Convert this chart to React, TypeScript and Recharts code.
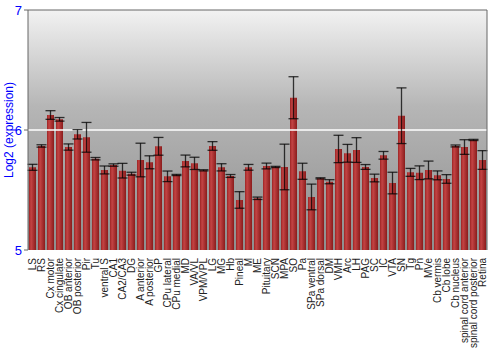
import { BarChart, Bar, XAxis, YAxis, CartesianGrid, ErrorBar, ReferenceLine, Label } from 'recharts';

const regions = [
  'LS', 'RS', 'Cx motor', 'Cx cingulate', 'OB anterior', 'OB posterior', 'Pir', 'Tu', 'ventral S', 'CA1',
  'CA2/CA3', 'DG', 'A anterior', 'A posterior', 'GP', 'CPu lateral', 'CPu medial', 'MD', 'VA/VL', 'VPM/VPL',
  'LG', 'MG', 'Hb', 'Pineal', 'M', 'ME', 'Pituitary', 'SCN', 'MPA', 'SO',
  'Pa', 'SPa ventral', 'SPa dorsal', 'DM', 'VMH', 'Arc', 'LH', 'PAG', 'SC', 'IC',
  'VTA', 'SN', 'Tg', 'Pn', 'MVe', 'Cb vermis', 'Cb lobe', 'Cb nucleus', 'spinal cord anterior', 'spinal cord posterior',
  'Retina',
];

const expression = [
  5.689, 5.867, 6.125, 6.089, 5.858, 5.964, 5.939, 5.761, 5.667, 5.708,
  5.661, 5.636, 5.75, 5.731, 5.864, 5.614, 5.625, 5.742, 5.722, 5.664,
  5.867, 5.689, 5.617, 5.417, 5.689, 5.431, 5.7, 5.692, 5.692, 6.269,
  5.656, 5.442, 5.597, 5.569, 5.842, 5.806, 5.833, 5.692, 5.6, 5.789,
  5.558, 6.119, 5.647, 5.644, 5.667, 5.622, 5.592, 5.867, 5.858, 5.917,
  5.75,
];

const errors = [
  0.025, 0.01, 0.036, 0.015, 0.026, 0.039, 0.124, 0.01, 0.033, 0.01,
  0.061, 0.012, 0.14, 0.054, 0.074, 0.044, 0.005, 0.049, 0.051, 0.005,
  0.036, 0.03, 0.012, 0.069, 0.024, 0.01, 0.024, 0.005, 0.19, 0.175,
  0.067, 0.107, 0.005, 0.017, 0.114, 0.074, 0.103, 0.02, 0.032, 0.032,
  0.09, 0.232, 0.033, 0.057, 0.074, 0.037, 0.036, 0.008, 0.061, 0.005,
  0.078,
];

const yTicks = [5, 6, 7];

const data = regions.map((name, i) => ({ name, value: expression[i], err: errors[i] }));

const font = '"Liberation Sans", Arial, sans-serif';

function RegionTick(props: any) {
  const { x, y, payload } = props;
  return (
    <text
      x={x}
      y={y}
      transform={`rotate(-90, ${x}, ${y})`}
      dy={3.5}
      textAnchor="end"
      fill="#222"
      fontSize={10}
      fontFamily={font}
    >
      {payload.value}
    </text>
  );
}

export default function App() {
  return (
    <div style={{ position: 'absolute', left: 0, top: 0, width: 500, height: 350, background: '#fff' }}>
      <BarChart
        width={500}
        height={350}
        data={data}
        margin={{ top: 10, right: 0, bottom: 0, left: 0 }}
        barCategoryGap={1}
      >
        <defs>
          <linearGradient id="bgFill" x1="0" y1="0" x2="0" y2="1">
            <stop offset="0%" stopColor="#f2f2f2" />
            <stop offset="40%" stopColor="#b6b6b6" />
            <stop offset="100%" stopColor="#8e8e8e" />
          </linearGradient>
          <linearGradient id="barFill" x1="0" y1="0" x2="1" y2="0">
            <stop offset="0%" stopColor="#9c2424" />
            <stop offset="30%" stopColor="#c44444" />
            <stop offset="100%" stopColor="#8a1c1c" />
          </linearGradient>
        </defs>
        <CartesianGrid fill="url(#bgFill)" vertical={false} horizontal={false} />
        <XAxis
          dataKey="name"
          interval={0}
          height={100}
          tick={<RegionTick />}
          tickLine={false}
          axisLine={false}
        />
        <YAxis
          yAxisId="left"
          domain={[5, 7]}
          ticks={yTicks}
          width={28}
          allowDataOverflow
          stroke="#666"
          tickSize={4}
          tick={{ fill: '#0000ff', fontSize: 13, fontFamily: font }}
        >
          <Label
            value="Log2 (expression)"
            angle={-90}
            position="insideLeft"
            offset={9}
            style={{ fill: '#0000ff', fontSize: 12, fontFamily: font, textAnchor: 'middle' }}
          />
        </YAxis>
        <YAxis
          yAxisId="right"
          orientation="right"
          domain={[5, 7]}
          ticks={yTicks}
          width={13}
          stroke="#666"
          tickSize={4}
          tick={{ fill: '#0000ff', fontSize: 13, fontFamily: font }}
        />
        <ReferenceLine yAxisId="left" y={6} stroke="#ffffff" strokeWidth={1.5} />
        <ReferenceLine yAxisId="left" y={7} stroke="#666" strokeWidth={1} />
        <Bar yAxisId="left" dataKey="value" fill="url(#barFill)" isAnimationActive={false}>
          <ErrorBar dataKey="err" width={5} stroke="rgba(0,0,0,0.75)" strokeWidth={1.3} />
        </Bar>
      </BarChart>
    </div>
  );
}
